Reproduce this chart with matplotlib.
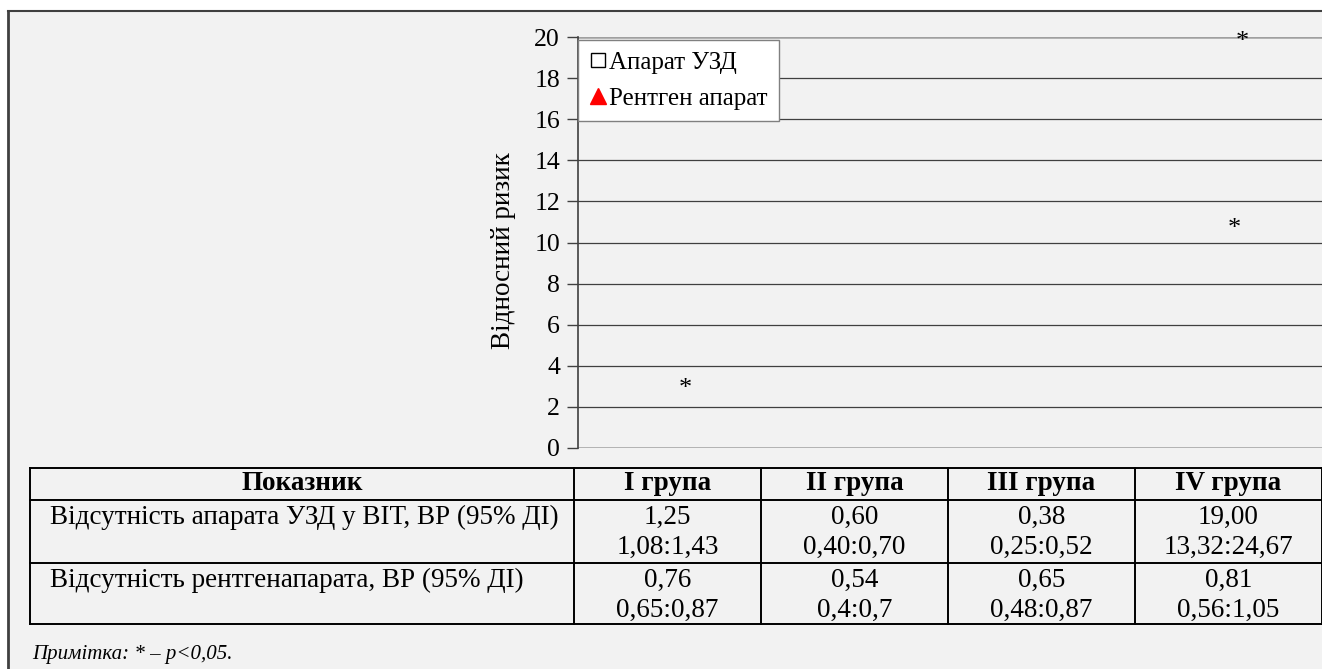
import matplotlib
matplotlib.use('Agg')
import matplotlib.pyplot as plt
from matplotlib.lines import Line2D

plt.rcParams['font.family'] = ['Liberation Serif', 'DejaVu Serif']

# Дані
групи = ['I група', 'II група', 'III група', 'IV група']
показники = ['Відсутність апарата УЗД у ВІТ, ВР (95% ДІ)',
             'Відсутність рентгенапарата, ВР (95% ДІ)']
вр_узд = ['1,25', '0,60', '0,38', '19,00']
ді_узд = ['1,08:1,43', '0,40:0,70', '0,25:0,52', '13,32:24,67']
вр_рентген = ['0,76', '0,54', '0,65', '0,81']
ді_рентген = ['0,65:0,87', '0,4:0,7', '0,48:0,87', '0,56:1,05']
# позначки значущості (* – p<0,05)
зірки_x = [0.075, 3.03, 3.07]
зірки_y = [3.16, 10.95, 20.05]
yticks = list(range(0, 21, 2))

W, H = 1322, 669
fig = plt.figure(figsize=(W / 100, H / 100), dpi=100)
fig.patch.set_facecolor('white')

def fx(px):
    return px / W

def fy(py):
    return 1 - py / H

# рамка та фон
fig.patches.append(plt.Rectangle((fx(8), 0), 1, fy(11), transform=fig.transFigure,
                                 facecolor='#f2f2f2', edgecolor='none', zorder=-10))
fig.add_artist(Line2D([fx(8), fx(8)], [0, fy(11)], transform=fig.transFigure,
                      color='#404040', lw=2))
fig.add_artist(Line2D([fx(8), 1], [fy(11), fy(11)], transform=fig.transFigure,
                      color='#404040', lw=1.5))

# графік
ax = fig.add_axes([fx(578), fy(448), fx(1322) - fx(578), fy(37) - fy(448)])
ax.set_facecolor('none')
ax.set_xlim(-0.5, 3.5)
ax.set_ylim(0, 20)
ax.set_yticks(yticks)
ax.set_xticks([])
for y in yticks:
    if y in (0, 20):
        ax.axhline(y, color='#a0a0a0', lw=1.8, zorder=1)
    else:
        ax.axhline(y, color='#404040', lw=0.9, zorder=1)
for s in ['top', 'right', 'bottom']:
    ax.spines[s].set_visible(False)
ax.spines['left'].set_color('#404040')
ax.spines['left'].set_linewidth(1.2)
ax.tick_params(axis='y', length=8, width=1, color='#404040', labelsize=18.5, pad=5)

for x, y in zip(зірки_x, зірки_y):
    ax.annotate('*', (x, y), xytext=(0, -4), textcoords='offset points',
                ha='center', va='center', fontsize=19, annotation_clip=False)

fig.text(fx(503), fy(251), 'Відносний ризик', rotation=90, ha='center', va='center',
         fontsize=19.5)

handles = [Line2D([], [], marker='s', linestyle='none', markerfacecolor='white',
                  markeredgecolor='black', markersize=10, label='Апарат УЗД'),
           Line2D([], [], marker='^', linestyle='none', color='red',
                  markersize=11, label='Рентген апарат')]
leg = ax.legend(handles=handles, loc='upper left', bbox_to_anchor=(fx(578), fy(40)),
                bbox_transform=fig.transFigure, borderaxespad=0, fontsize=18,
                frameon=True, fancybox=False, handlelength=0.7, handletextpad=0.1,
                labelspacing=0.55, borderpad=0.45)
leg.get_frame().set_edgecolor('#808080')
leg.get_frame().set_linewidth(1)
leg.get_frame().set_facecolor('white')
leg.get_frame().set_alpha(1)

# таблиця
col_x = [30, 574, 761, 948, 1135, 1322]
row_y = [468, 500, 563, 624]
lw_t = 1.4
for y in row_y:
    fig.add_artist(Line2D([fx(col_x[0]), fx(col_x[-1])], [fy(y), fy(y)],
                          transform=fig.transFigure, color='black', lw=lw_t))
for x in col_x:
    fig.add_artist(Line2D([fx(x), fx(x)], [fy(row_y[0]), fy(row_y[-1])],
                          transform=fig.transFigure, color='black', lw=lw_t))

fs = 19.5
fig.text(fx((col_x[0] + col_x[1]) / 2), fy(484), 'Показник', ha='center', va='center',
         fontsize=fs, fontweight='bold')
for i, g in enumerate(групи):
    cx = fx((col_x[i + 1] + col_x[i + 2]) / 2)
    fig.text(cx, fy(484), g, ha='center', va='center', fontsize=fs, fontweight='bold')
    fig.text(cx, fy(517), вр_узд[i], ha='center', va='center', fontsize=fs)
    fig.text(cx, fy(547), ді_узд[i], ha='center', va='center', fontsize=fs)
    fig.text(cx, fy(580), вр_рентген[i], ha='center', va='center', fontsize=fs)
    fig.text(cx, fy(610), ді_рентген[i], ha='center', va='center', fontsize=fs)

fig.text(fx(50), fy(517), показники[0], ha='left', va='center', fontsize=fs)
fig.text(fx(50), fy(580), показники[1], ha='left', va='center', fontsize=fs)

fig.text(fx(32), fy(655), 'Примітка: * – p<0,05.', ha='left', va='center',
         fontsize=15, style='italic')

fig.savefig('out.png', dpi=100, facecolor=fig.get_facecolor())
